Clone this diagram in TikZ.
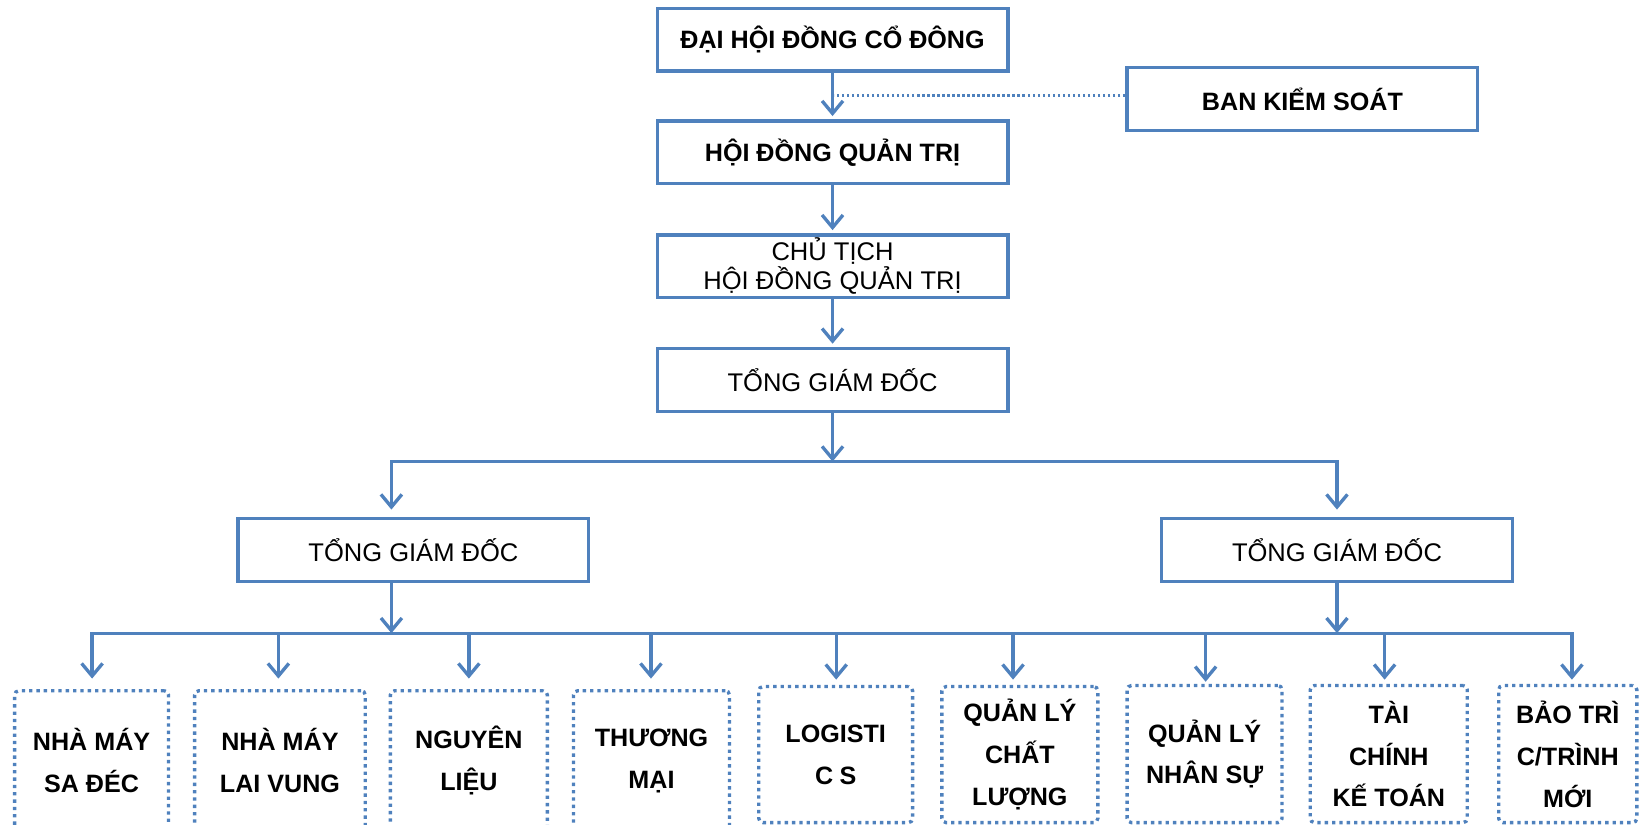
\documentclass[tikz,border=0pt]{standalone}
\usepackage{fontspec}
\setmainfont{Liberation Sans}
\usetikzlibrary{arrows.meta}
\definecolor{lineblue}{RGB}{79,129,189}
\begin{document}
\begin{tikzpicture}[x=0.5pt,y=-0.5pt,
  topbox/.style={draw=lineblue, line width=1.6pt, fill=white, minimum width=167.5pt, minimum height=30pt, inner sep=0pt, align=center, font=\bfseries\fontsize{12}{12.5}\selectfont},
  regtext/.style={font=\fontsize{12.2}{12.5}\selectfont},
  dotbox/.style={draw=lineblue, line width=1.6pt, dash pattern=on 1.6pt off 1.9pt, rounded corners=2pt, inner sep=0pt, align=center, font=\bfseries\fontsize{12}{20}\selectfont},
  conn/.style={draw=lineblue, line width=1.6pt},
  arr/.style={conn, -{Straight Barb[length=6pt,width=10pt]}},
  dotconn/.style={draw=lineblue, line width=1.5pt, dash pattern=on 1.2pt off 1.2pt}
]
\useasboundingbox (0,0) rectangle (1568,788);
% top chain
\node[topbox] (dhcd) at (795.5,38) {ĐẠI HỘI ĐỒNG CỔ ĐÔNG};
\node[topbox] (bks) at (1244.5,94.5) {BAN KIỂM SOÁT};
\node[topbox] (hdqt) at (795.5,145.5) {HỘI ĐỒNG QUẢN TRỊ};
\node[topbox, regtext] (ct) at (795.5,254.5) {CHỦ TỊCH\\HỘI ĐỒNG QUẢN TRỊ};
\node[topbox, regtext] (tgd) at (795.5,363) {TỔNG GIÁM ĐỐC};
\node[topbox, regtext] (tgdl) at (395,525.5) {TỔNG GIÁM ĐỐC};
\node[topbox, regtext] (tgdr) at (1277.5,525.5) {TỔNG GIÁM ĐỐC};
% bottom boxes
\node[dotbox, minimum width=73.5pt, minimum height=67pt] (b1) at (87.5,727) {NHÀ MÁY\\SA ĐÉC};
\node[dotbox, minimum width=81.5pt, minimum height=67pt] (b2) at (267.5,727) {NHÀ MÁY\\LAI VUNG};
\node[dotbox, minimum width=75pt, minimum height=67pt] (b3) at (448,727) {NGUYÊN\\LIỆU};
\node[dotbox, minimum width=74.5pt, minimum height=67pt] (b4) at (622.5,727) {THƯƠNG\\MẠI};
\node[dotbox, minimum width=73.5pt, minimum height=65pt] (b5) at (798.5,721) {LOGISTI\\C\hspace{3pt}S};
\node[dotbox, minimum width=74.5pt, minimum height=65pt] (b6) at (974.5,721) {QUẢN LÝ\\CHẤT\\LƯỢNG};
\node[dotbox, minimum width=74pt, minimum height=65.5pt] (b7) at (1151,720.5) {QUẢN LÝ\\NHÂN SỰ};
\node[dotbox, minimum width=75pt, minimum height=65.5pt] (b8) at (1327,720.5) {TÀI\\CHÍNH\\KẾ TOÁN};
\node[dotbox, minimum width=66pt, minimum height=65.5pt] (b9) at (1498,720.5) {BẢO TRÌ\\C/TRÌNH\\MỚI};
% connectors, top
\draw[arr, shorten >=1.5pt] (dhcd) -- (hdqt);
\coordinate (dj) at (797,91);
\draw[dotconn] (bks.west |- dj) -- (dj);
\draw[arr, shorten >=1.5pt] (hdqt) -- (ct);
\draw[arr, shorten >=1.5pt] (ct) -- (tgd);
\coordinate (t1) at (795.5,441);
\coordinate (tl) at (374,441);
\coordinate (tr) at (1277.5,441);
\draw[conn, line cap=rect] (tl) -- (tr);
\draw[arr] (tgd) -- (t1);
\draw[arr, shorten >=3.5pt] (tl) -- (tl |- tgdl.north);
\draw[arr, shorten >=3.5pt] (tr) -- (tgdr);
% bus to bottom boxes
\coordinate (bl) at (374,605);
\coordinate (k1) at (88,605);
\coordinate (k2) at (266,605);
\coordinate (k3) at (448,605);
\coordinate (k4) at (622,605);
\coordinate (k5) at (799,605);
\coordinate (k6) at (968,605);
\coordinate (k7) at (1152,605);
\coordinate (k8) at (1323,605);
\coordinate (k9) at (1502,605);
\draw[conn, line cap=rect] (k1) -- (k9);
\draw[arr] (tgdl.south -| bl) -- (bl);
\draw[arr] (tgdr) -- (tgdr |- bl);
\draw[arr, shorten >=5pt] (k1) -- (k1 |- b1.north);
\draw[arr, shorten >=5pt] (k2) -- (k2 |- b2.north);
\draw[arr, shorten >=5pt] (k3) -- (k3 |- b3.north);
\draw[arr, shorten >=5pt] (k4) -- (k4 |- b4.north);
\draw[arr, shorten >=2.5pt] (k5) -- (k5 |- b5.north);
\draw[arr, shorten >=2.5pt] (k6) -- (k6 |- b6.north);
\draw[arr, shorten >=1pt] (k7) -- (k7 |- b7.north);
\draw[arr, shorten >=2pt] (k8) -- (k8 |- b8.north);
\draw[arr, shorten >=2pt] (k9) -- (k9 |- b9.north);
\end{tikzpicture}
\end{document}
